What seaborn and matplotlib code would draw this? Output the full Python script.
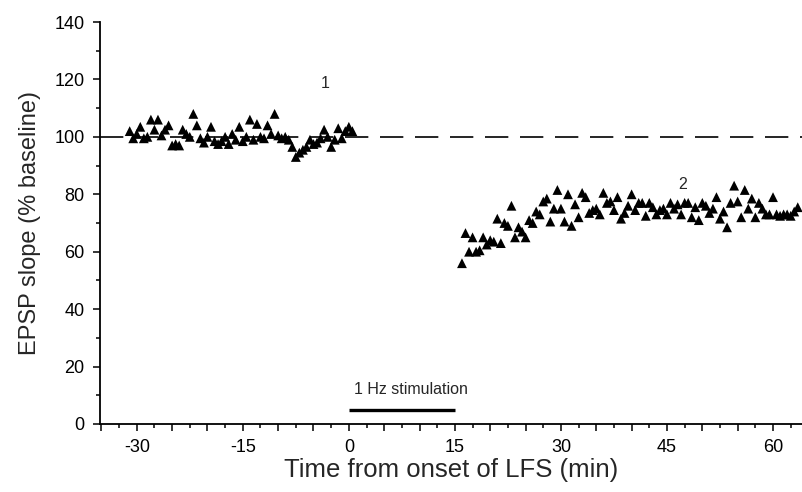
import matplotlib
matplotlib.use("Agg")
import matplotlib.pyplot as plt
from matplotlib.ticker import MultipleLocator, FuncFormatter
import pandas as pd
import seaborn as sns

# Baseline recording before low-frequency stimulation (min, % of baseline)
pre_time = [-31.0, -30.5, -30.0, -29.5, -29.0, -28.5, -28.0, -27.5, -27.0, -26.5,
            -26.0, -25.5, -25.0, -24.5, -24.0, -23.5, -23.0, -22.5, -22.0, -21.5,
            -21.0, -20.5, -20.0, -19.5, -19.0, -18.5, -18.0, -17.5, -17.0, -16.5,
            -16.0, -15.5, -15.0, -14.5, -14.0, -13.5, -13.0, -12.5, -12.0, -11.5,
            -11.0, -10.5, -10.0, -9.5, -9.0, -8.5, -8.0, -7.5, -7.0, -6.5,
            -6.0, -5.5, -5.0, -4.5, -4.0, -3.5, -3.0, -2.5, -2.0, -1.5,
            -1.0, -0.5, 0.0, 0.5]
pre_slope = [102, 99.5, 101, 103.5, 99.5, 100, 106, 102.5, 106, 100.5,
             102.5, 104, 97, 97.5, 97, 102.5, 101, 100, 108, 104,
             99.5, 98, 100, 103.5, 98.5, 97.5, 98.5, 100, 97.5, 101,
             99, 103.5, 98.5, 100, 106, 99, 104.5, 100, 99.5, 104,
             101, 108, 100.5, 99.5, 100, 99, 96.5, 93, 94.5, 95.5,
             96.5, 99, 97.5, 98, 99.5, 102.5, 100, 96.5, 99, 103,
             99.5, 102, 103.5, 102]

# Recording after the end of stimulation
post_time = [16.0, 16.5, 17.0, 17.5, 18.0, 18.5, 19.0, 19.5, 20.0, 20.5,
             21.0, 21.5, 22.0, 22.5, 23.0, 23.5, 24.0, 24.5, 25.0, 25.5,
             26.0, 26.5, 27.0, 27.5, 28.0, 28.5, 29.0, 29.5, 30.0, 30.5,
             31.0, 31.5, 32.0, 32.5, 33.0, 33.5, 34.0, 34.5, 35.0, 35.5,
             36.0, 36.5, 37.0, 37.5, 38.0, 38.5, 39.0, 39.5, 40.0, 40.5,
             41.0, 41.5, 42.0, 42.5, 43.0, 43.5, 44.0, 44.5, 45.0, 45.5,
             46.0, 46.5, 47.0, 47.5, 48.0, 48.5, 49.0, 49.5, 50.0, 50.5,
             51.0, 51.5, 52.0, 52.5, 53.0, 53.5, 54.0, 54.5, 55.0, 55.5,
             56.0, 56.5, 57.0, 57.5, 58.0, 58.5, 59.0, 59.5, 60.0, 60.5,
             61.0, 61.5, 62.0, 62.5, 63.0, 63.5]
post_slope = [56, 66.5, 60, 65, 60, 60.5, 65, 62.5, 64, 63.5,
              71.5, 63, 70, 69, 76, 65, 68.5, 67, 65, 71,
              70, 74, 73, 77.5, 78.5, 70.5, 75, 81.5, 75, 70.5,
              80, 69, 76.5, 72, 80.5, 79, 73.5, 74.5, 75, 73,
              80.5, 77, 77.5, 74.5, 79, 71.5, 73.5, 76, 80, 74.5,
              77, 77, 72.5, 77, 75.5, 73, 74.5, 75, 73, 77,
              75, 76.5, 73, 77, 77, 72, 75.5, 71, 77, 76,
              73.5, 75, 79, 71.5, 74, 68.5, 77, 83, 77.5, 72,
              81.5, 75, 78.5, 72, 77, 75, 73, 73, 79, 73,
              72.5, 73, 73, 72.5, 74, 75.5]

x_tick_labels = [-30, -15, 0, 15, 30, 45, 60]
baseline_level = 100
stim_period = [0, 15]
stim_label = "1 Hz stimulation"

df = pd.DataFrame({
    "time": pre_time + post_time,
    "slope": pre_slope + post_slope,
})

sns.set_style("ticks")
plt.rcParams["font.family"] = ["Liberation Sans", "DejaVu Sans"]
plt.rcParams["axes.unicode_minus"] = False

W, H = 802, 492
fig = plt.figure(figsize=(W / 100, H / 100), dpi=100)
ax = fig.add_axes([100 / W, 1 - 424 / H, 1 - 100 / W, (424 - 22) / H])

sns.scatterplot(data=df, x="time", y="slope", marker="^", s=50,
                color="black", edgecolor="none", linewidth=0, ax=ax,
                zorder=3, clip_on=False)

ax.axhline(baseline_level, color="black", lw=1.2, ls=(0, (14, 7)), zorder=2)
ax.plot(stim_period, [5, 5], color="black", lw=2.4, solid_capstyle="butt")
ax.text(sum(stim_period) / 2 + 1.3, 9.5, stim_label, ha="center", va="bottom",
        fontsize=11.5)
ax.text(-3.3, 118.5, "1", ha="center", va="center", fontsize=11.5)
ax.text(47.2, 83.5, "2", ha="center", va="center", fontsize=11.5)

ax.set_xlim(-35.2, 64.1)
ax.set_ylim(0, 140)

ax.xaxis.set_major_locator(MultipleLocator(5))
ax.xaxis.set_minor_locator(MultipleLocator(2.5))
ax.xaxis.set_major_formatter(FuncFormatter(
    lambda v, p: f"{int(round(v))}" if int(round(v)) in x_tick_labels else ""))
ax.yaxis.set_major_locator(MultipleLocator(20))
ax.yaxis.set_minor_locator(MultipleLocator(10))

ax.tick_params(axis="both", which="major", direction="out", length=5,
               width=1.1, labelsize=13, color="black", labelcolor="black")
ax.tick_params(axis="both", which="minor", direction="out", length=3,
               width=1.1, color="black")
ax.tick_params(axis="x", which="major", pad=6)
ax.tick_params(axis="y", which="major", pad=6)

for side in ("top", "right"):
    ax.spines[side].set_visible(False)
for side in ("left", "bottom"):
    ax.spines[side].set_linewidth(1.3)
    ax.spines[side].set_color("black")

ax.set_xlabel("Time from onset of LFS (min)", fontsize=18.5, labelpad=1)
ax.set_ylabel("EPSP slope (% baseline)", fontsize=17, labelpad=10)

fig.savefig("out.png", dpi=100)
